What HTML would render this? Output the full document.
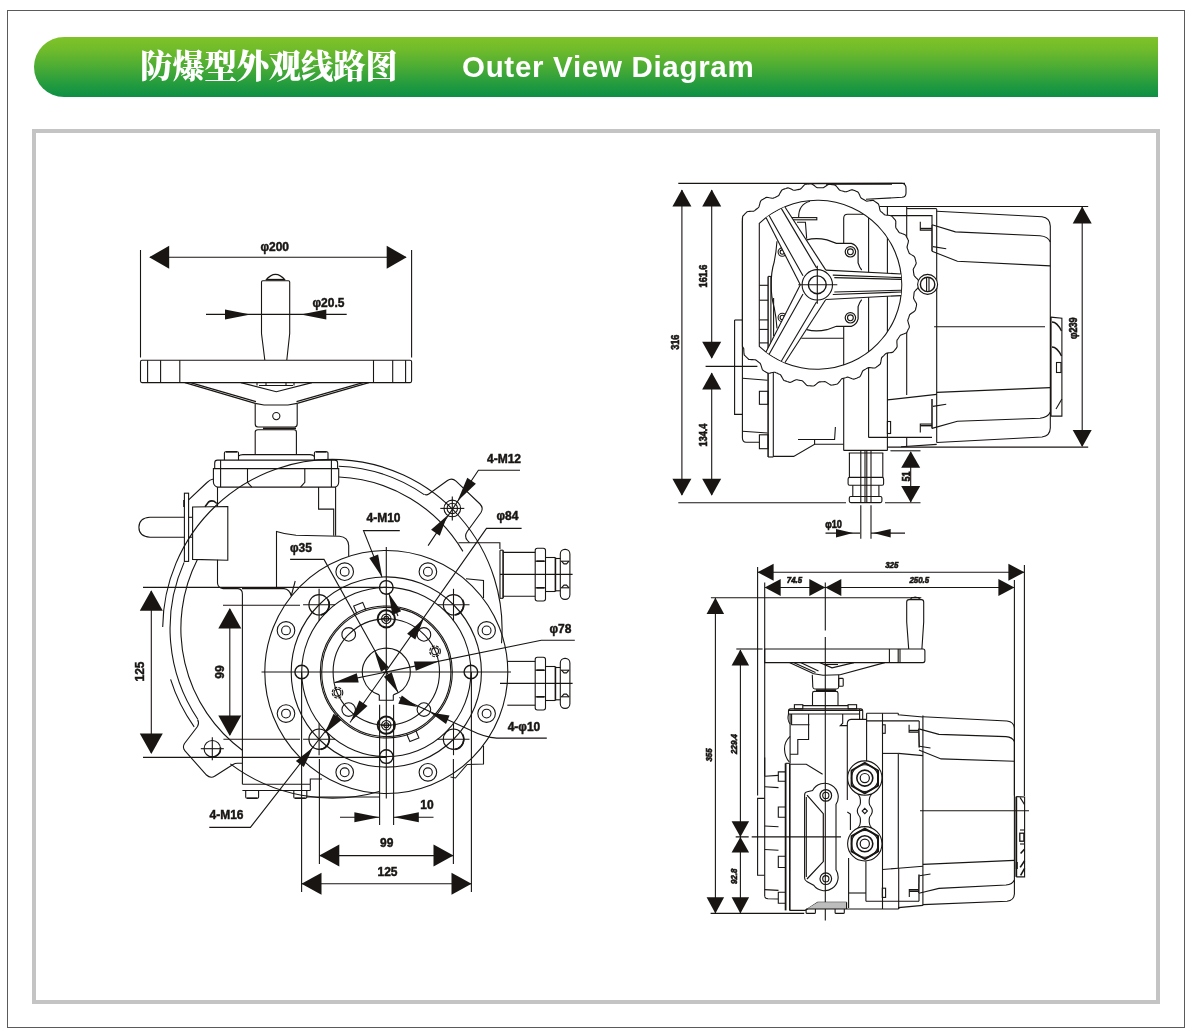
<!DOCTYPE html>
<html lang="zh">
<head>
<meta charset="utf-8">
<title>防爆型外观线路图 Outer View Diagram</title>
<style>
html,body{margin:0;padding:0;background:#fff;}
body{width:1192px;height:1035px;position:relative;overflow:hidden;font-family:"Liberation Sans","Noto Sans CJK SC",sans-serif;}
.page{position:absolute;left:7px;top:10px;width:1176px;height:1016px;border:1px solid #5a5a5a;box-sizing:content-box;}
.banner{position:absolute;left:34px;top:37px;width:1124px;height:60px;border-radius:30px 0 0 30px;background:linear-gradient(to bottom,#80c328 0%,#6fbb2b 22%,#4bac34 50%,#249c3e 78%,#0c8f45 100%);}
.banner h1{position:absolute;margin:0;left:106px;top:1px;height:60px;line-height:58px;font-family:"Liberation Serif","Noto Serif CJK SC",serif;font-weight:900;font-size:32.4px;color:#fff;white-space:nowrap;letter-spacing:-0.2px;}
.banner h2{position:absolute;margin:0;left:428px;top:1px;height:60px;line-height:58px;font-family:"Liberation Sans",sans-serif;font-weight:bold;font-size:29.5px;letter-spacing:0.7px;color:#fff;white-space:nowrap;}
.box{position:absolute;left:32px;top:129px;width:1120px;height:867px;border:4px solid #c4c4c4;box-sizing:content-box;background:#fff;}
svg{position:absolute;left:0;top:0;}
svg .a{fill:#181513;stroke:none;}
svg text{fill:#181513;stroke:#181513;stroke-width:0.45px;}
svg text.s{stroke-width:0.6px;}
svg{will-change:transform;}
.banner h1,.banner h2{will-change:transform;}
</style>
</head>
<body>
<div class="page"></div>
<div class="banner"><h1>防爆型外观线路图</h1><h2>Outer View Diagram</h2></div>
<div class="box"></div>
<svg width="1192" height="1035" viewBox="0 0 1192 1035" fill="none" stroke="#181513" stroke-width="1.1" font-family="Liberation Sans, sans-serif" font-weight="bold" font-size="12" text-anchor="middle">
<g id="p10_left_wheel">
<path d="M140.5 250.0L140.5 357.5"/>
<path d="M411.6 250.0L411.6 357.5"/>
<path d="M150.0 257.3L406.0 257.3"/>
<path class="a" d="M149.2 257.3L169.2 245.8L169.2 268.8Z"/>
<path class="a" d="M406.7 257.3L386.7 268.8L386.7 245.8Z"/>
<text x="274.7" y="250.5">φ200</text>
<path d="M264.8 360L261.5 333.5L261.5 282Q261.5 280.8 262.8 280.8L288.4 280.8Q289.7 280.8 289.7 282L289.7 333.5L286.8 360"/>
<path d="M265.8 280.2Q275.5 268.6 285.2 280.2"/>
<path d="M266.5 279.6L284.5 279.6" stroke-width="1.5"/>
<path d="M206.0 314.4L346.7 314.4"/>
<path class="a" d="M250.5 314.4L225.0 319.4L225.0 309.4Z"/>
<path class="a" d="M300.8 314.4L326.3 309.4L326.3 319.4Z"/>
<text x="328.5" y="307.0">φ20.5</text>
<rect x="140.5" y="360.2" width="271.1" height="22.4" rx="1.5"/>
<path d="M147.6 360.2L147.6 382.6"/>
<path d="M160.6 360.2L160.6 382.6"/>
<path d="M179.8 360.2L179.8 382.6"/>
<path d="M373.5 360.2L373.5 382.6"/>
<path d="M392.7 360.2L392.7 382.6"/>
<path d="M405.6 360.2L405.6 382.6"/>
<path d="M184.9 382.6L255.2 403.4"/>
<path d="M190.5 382.6L256.0 401.6"/>
<path d="M368.9 382.6L297.2 403.4"/>
<path d="M363.0 382.6L296.5 401.6"/>
<path d="M240.9 382.6L276.3 391.8L312.0 382.6"/>
<path d="M255.2 403.4L264.0 405.0L288.0 405.0L297.2 403.4"/>
<path d="M257.0 382.6L257.0 385.5"/>
<path d="M259.0 385.5L293.0 385.5"/>
<path d="M266.0 382.6L266.0 385.5"/>
<path d="M286.0 382.6L286.0 385.5"/>
<path d="M294.0 382.6L294.0 385.5"/>
<path d="M255.2 403.4L255.2 424Q255.2 427 258 427L294.5 427Q297.2 427 297.2 424L297.2 403.4"/>
<circle cx="276.3" cy="416.1" r="3.6"/>
<path d="M263.0 428.4L296.0 428.4" stroke-width="1.8"/>
<path d="M255.2 454L255.2 432Q255.2 429.8 258 429.8L294 429.8Q296.4 429.8 296.4 432L296.4 454"/>
</g>
<g id="p15_left_body">
<path d="M224.4 460.1L224.4 453Q224.4 451.8 225.6 451.8L237.3 451.8Q238.5 451.8 238.5 453L238.5 460.1"/>
<path d="M225.9 451.8L237.0 451.8" stroke-width="1.6"/>
<path d="M314.4 460.1L314.4 453Q314.4 451.8 315.6 451.8L326.8 451.8Q328.0 451.8 328.0 453L328.0 460.1"/>
<path d="M315.9 451.8L326.5 451.8" stroke-width="1.6"/>
<path d="M238.5 456Q240 454.6 243 454.6L310 454.6Q313 454.6 314.4 456.5"/>
<path d="M214.7 468.6L214.7 463Q214.7 460.1 217.5 460.1L334.8 460.1Q337.6 460.1 337.6 463L337.6 468.6"/>
<path d="M213.4 468.6L213.4 482Q213.6 486 217.5 487.1L335.3 487.1Q338.6 486 338.7 482L338.7 468.6Z"/>
<path d="M220.6 460.1L220.6 487.1"/>
<path d="M331.4 460.1L331.4 487.1"/>
<path d="M247.5 468.6L247.5 482.3L251.8 487.1"/>
<path d="M304.8 468.6L304.8 482.3L300.5 487.1"/>
<path d="M217.5 487.1L217.5 506.5"/>
<path d="M217.5 559.8L217.5 583Q217.8 588 223.2 588.6L238 588.6Q242.4 589 242.4 594L242.4 784.2"/>
<path d="M242 588.6L284 588.6Q289.5 589 291.4 596"/>
<path d="M318.6 487.1L318.6 509.1L333.7 509.1L333.7 535.8"/>
<path d="M335.6 487.1L335.6 535.8"/>
<path d="M276.5 588.6L276.5 531.5Q286 534.6 296 535.2L339.5 536.2Q348 537 348.7 545.5L348.7 556"/>
<path d="M192.6 507.0L227.8 506.5L227.8 560.3L192.6 559.4Z"/>
<rect x="184.4" y="493.2" width="4.2" height="68.2"/>
<path d="M188.6 517.3L192.6 517.3"/>
<path d="M188.6 537.2L192.6 537.2"/>
<path d="M184.4 517.3L150 517.3Q138.9 518 138.9 527.3Q138.9 536.5 150 537.2L184.4 537.2"/>
<path d="M184.0 500.0L184.0 507.0" stroke-width="1.6"/>
<path d="M205 506.7L208.5 502Q211 500.3 214 501.2L216.8 503.5" stroke-width="1.6"/>
<path d="M188.6 499.9L207 482.5Q210 479.5 213.4 479"/>
<path d="M242.4 784.2L310.3 784.2"/>
<path d="M242.4 790.5L310.3 790.5"/>
<path d="M310.3 784.2L310.3 790.5"/>
<path d="M245.7 790.5L245.7 797Q245.7 798.2 247 798.2L257.4 798.2Q258.6 798.2 258.6 797L258.6 790.5"/>
<path d="M293.8 790.5L293.8 797Q293.8 798.2 295 798.2L305.6 798.2Q306.8 798.2 306.8 797L306.8 790.5"/>
<path d="M247.0 798.2L257.4 798.2" stroke-width="1.5"/>
<path d="M295.0 798.2L305.6 798.2" stroke-width="1.5"/>
<path d="M306.8 797.0L380.0 797.0"/>
<path d="M295.2 581.0L291.2 596.0"/>
<path d="M310.3 784.2L310.3 779.0L322.0 779.0"/>
</g>
<g id="p16_left_arcs">
<path d="M162.7 626.9A169.7 169.7 0 1 1 501.5 643.2"/>
<path d="M194.2 726.9A169.7 169.7 0 0 1 170.6 679.4"/>
<path d="M379.2 791.5A169.7 169.7 0 0 1 230.3 763.9"/>
<path d="M197.8 719.2A162.3 162.3 0 0 1 184.1 562.4"/>
<path d="M338.7 466.2A162.3 162.3 0 0 1 424.2 494.6"/>
<path d="M242.3 750.2A151.5 151.5 0 0 1 197.4 559.6"/>
<path d="M339.0 477.0A151.5 151.5 0 0 1 462.9 551.4"/>
<path d="M424.5 494.2Q426.5 495.6 428.8 494L447.5 480.5Q452 477.3 456 481.2L480 504Q483.8 508 481 512.5L467.2 531.5Q463.8 536.5 467.5 540.5L469.5 542.7"/>
<circle cx="452.3" cy="508.4" r="8.3"/>
<circle cx="452.3" cy="508.4" r="5.2"/>
<path d="M440.3 508.4L464.3 508.4"/>
<path d="M452.3 496.4L452.3 520.4"/>
<path d="M197.6 719.6Q199.5 723 197.5 726.5L184.5 743.5Q182 747.5 185 750.8L206.5 775Q210.5 779 215 776L233 764.5Q235 763.3 237.5 763.3L242.4 763.3"/>
<circle cx="212.3" cy="748.7" r="8.2"/>
<path d="M200.8 748.7L223.8 748.7"/>
<path d="M212.3 737.2L212.3 760.2"/>
<path d="M220.4 747.3A8.2 8.2 0 0 1 210.9 756.8" stroke-width="1.6"/>
<path d="M458.4 542.7L499.9 542.7L499.9 549.0"/>
</g>
<g id="p17_left_glands">
<path d="M500.0 550.2L503.1 550.2"/>
<path d="M500.0 598.3L503.1 598.3"/>
<path d="M500.0 550.2L500.0 598.3"/>
<path d="M503.1 550.2L503.1 598.3" stroke-width="1.6"/>
<path d="M503.1 552.4L535.2 552.4"/>
<path d="M503.1 596.2L535.2 596.2"/>
<rect x="535.2" y="548.2" width="10.3" height="52.8" rx="2.2"/>
<path d="M535.2 561.2L545.5 561.2"/>
<path d="M535.2 587.8L545.5 587.8"/>
<path d="M536.5 561.2L544.2 561.2" stroke-width="1.6"/>
<path d="M536.5 587.8L544.2 587.8" stroke-width="1.6"/>
<path d="M545.5 557.5L555.4 557.5"/>
<path d="M545.5 591.5L555.4 591.5"/>
<path d="M555.4 557.5L555.4 591.5" stroke-width="1.6"/>
<path d="M555.4 558.5L560.4 558.5"/>
<path d="M555.4 590.8L560.4 590.8"/>
<rect x="560.3" y="549.4" width="9.6" height="50.0" rx="4.6"/>
<path d="M561.0 561.2L569.2 561.2"/>
<path d="M561.0 587.8L569.2 587.8"/>
<path d="M561.5 561.2L564 563.9L566.5 563.9L569 561.2"/>
<path d="M561.5 587.8L564 585.1L566.5 585.1L569 587.8"/>
<path d="M500.0 574.4L572.6 574.4"/>
<path d="M507.3 661.4L535.2 661.4"/>
<path d="M507.3 705.2L535.2 705.2"/>
<rect x="535.2" y="657.2" width="10.3" height="52.8" rx="2.2"/>
<path d="M535.2 670.2L545.5 670.2"/>
<path d="M535.2 696.8L545.5 696.8"/>
<path d="M536.5 670.2L544.2 670.2" stroke-width="1.6"/>
<path d="M536.5 696.8L544.2 696.8" stroke-width="1.6"/>
<path d="M545.5 666.5L555.4 666.5"/>
<path d="M545.5 700.5L555.4 700.5"/>
<path d="M555.4 666.5L555.4 700.5" stroke-width="1.6"/>
<path d="M555.4 667.5L560.4 667.5"/>
<path d="M555.4 699.8L560.4 699.8"/>
<rect x="560.3" y="658.4" width="9.6" height="50.0" rx="4.6"/>
<path d="M561.0 670.2L569.2 670.2"/>
<path d="M561.0 696.8L569.2 696.8"/>
<path d="M561.5 670.2L564 672.9L566.5 672.9L569 670.2"/>
<path d="M561.5 696.8L564 694.1L566.5 694.1L569 696.8"/>
<path d="M500.0 683.4L572.6 683.4"/>
<path d="M466.0 578.7L483.5 580.5L483.5 598.0"/>
<path d="M483.5 745.8L483.5 764.0L467.2 764.5L455.5 778.0L450.5 777.0"/>
</g>
<g id="p20_left_flange">
<circle cx="386.3" cy="672.0" r="121.5"/>
<circle cx="386.3" cy="672.0" r="95.1"/>
<circle cx="386.3" cy="672.0" r="84.6"/>
<circle cx="386.3" cy="672.0" r="66.0"/>
<circle cx="386.3" cy="672.0" r="64.6"/>
<circle cx="386.3" cy="672.0" r="53.2"/>
<path d="M379.3 694.9A23.9 23.9 0 1 1 393.3 694.9"/>
<path d="M379.3 694.9L379.3 700.2L393.3 700.2L393.3 694.9"/>
<circle cx="486.6" cy="713.6" r="8.8"/>
<circle cx="486.6" cy="713.6" r="4.4"/>
<circle cx="427.9" cy="772.3" r="8.8"/>
<circle cx="427.9" cy="772.3" r="4.4"/>
<circle cx="344.7" cy="772.3" r="8.8"/>
<circle cx="344.7" cy="772.3" r="4.4"/>
<circle cx="286.0" cy="713.6" r="8.8"/>
<circle cx="286.0" cy="713.6" r="4.4"/>
<circle cx="286.0" cy="630.4" r="8.8"/>
<circle cx="286.0" cy="630.4" r="4.4"/>
<circle cx="344.7" cy="571.7" r="8.8"/>
<circle cx="344.7" cy="571.7" r="4.4"/>
<circle cx="427.9" cy="571.7" r="8.8"/>
<circle cx="427.9" cy="571.7" r="4.4"/>
<circle cx="486.6" cy="630.4" r="8.8"/>
<circle cx="486.6" cy="630.4" r="4.4"/>
<circle cx="453.5" cy="739.2" r="10.2"/>
<path d="M462.4 734.1A10.2 10.2 0 0 1 455.3 749.3" stroke-width="1.7"/>
<path d="M437.5 739.2L469.5 739.2"/>
<path d="M453.5 723.2L453.5 755.2"/>
<circle cx="319.1" cy="739.2" r="10.2"/>
<path d="M327.9 734.1A10.2 10.2 0 0 1 320.8 749.3" stroke-width="1.7"/>
<path d="M303.1 739.2L335.1 739.2"/>
<path d="M319.1 723.2L319.1 755.2"/>
<circle cx="319.1" cy="604.8" r="10.2"/>
<path d="M327.9 599.7A10.2 10.2 0 0 1 320.8 614.8" stroke-width="1.7"/>
<path d="M303.1 604.8L335.1 604.8"/>
<path d="M319.1 588.8L319.1 620.8"/>
<circle cx="453.5" cy="604.8" r="10.2"/>
<path d="M462.4 599.7A10.2 10.2 0 0 1 455.3 614.8" stroke-width="1.7"/>
<path d="M437.5 604.8L469.5 604.8"/>
<path d="M453.5 588.8L453.5 620.8"/>
<circle cx="470.9" cy="672.0" r="6.8" stroke-width="1.4"/>
<circle cx="386.3" cy="756.6" r="6.8" stroke-width="1.4"/>
<circle cx="301.7" cy="672.0" r="6.8" stroke-width="1.4"/>
<circle cx="386.3" cy="587.4" r="6.8" stroke-width="1.4"/>
<circle cx="386.3" cy="725.2" r="8.6" stroke-width="2"/>
<circle cx="386.3" cy="725.2" r="4.7"/>
<circle cx="386.3" cy="725.2" r="2.4"/>
<path d="M381.6 725.2L391.0 725.2"/>
<circle cx="386.3" cy="618.8" r="8.6" stroke-width="2"/>
<circle cx="386.3" cy="618.8" r="4.7"/>
<circle cx="386.3" cy="618.8" r="2.4"/>
<path d="M381.6 618.8L391.0 618.8"/>
<circle cx="423.9" cy="709.6" r="6.8"/>
<circle cx="348.7" cy="709.6" r="6.8"/>
<circle cx="348.7" cy="634.4" r="6.8"/>
<circle cx="423.9" cy="634.4" r="6.8"/>
<circle cx="435.1" cy="651.3" r="5.3" stroke-dasharray="3 1.2"/>
<circle cx="435.1" cy="651.3" r="3.4"/>
<circle cx="337.5" cy="692.7" r="5.3" stroke-dasharray="3 1.2"/>
<circle cx="337.5" cy="692.7" r="3.4"/>
<path d="M356.8 613.5L353.7 606.1L362.7 602.4L365.8 609.8"/>
<path d="M415.8 730.5L418.9 737.9L409.9 741.6L406.8 734.2"/>
<path d="M261.5 672.0L511.0 672.0"/>
<path d="M386.3 547.0L386.3 798.5"/>
</g>
<g id="p30_left_dims">
<path d="M143.0 587.4L386.3 587.4"/>
<path d="M143.0 757.4L386.3 757.4"/>
<path d="M151.3 591.0L151.3 753.0"/>
<path class="a" d="M151.3 590.2L162.8 610.7L139.8 610.7Z"/>
<path class="a" d="M151.3 754.0L139.8 733.5L162.8 733.5Z"/>
<text transform="translate(143.5 671.5) rotate(-90)">125</text>
<path d="M223.0 605.2L300.0 605.2"/>
<path d="M223.4 739.2L300.0 739.2"/>
<path d="M229.8 609.0L229.8 735.0"/>
<path class="a" d="M229.8 608.0L241.3 628.5L218.3 628.5Z"/>
<path class="a" d="M229.8 736.0L218.3 715.5L241.3 715.5Z"/>
<text transform="translate(223.5 672.0) rotate(-90)">99</text>
<path d="M301.6 672.0L301.6 892.0"/>
<path d="M471.4 672.0L471.4 892.0"/>
<path d="M319.4 759.0L319.4 864.0"/>
<path d="M453.4 759.0L453.4 864.0"/>
<path d="M320.0 855.6L453.0 855.6"/>
<path class="a" d="M319.3 855.6L339.3 844.6L339.3 866.6Z"/>
<path class="a" d="M453.5 855.6L433.5 866.6L433.5 844.6Z"/>
<text x="386.8" y="847.0">99</text>
<path d="M302.0 883.8L471.0 883.8"/>
<path class="a" d="M301.5 883.8L321.5 872.8L321.5 894.8Z"/>
<path class="a" d="M471.5 883.8L451.5 894.8L451.5 872.8Z"/>
<text x="387.5" y="875.6">125</text>
<path d="M379.6 704.7L379.6 825.0"/>
<path d="M393.6 704.7L393.6 825.0"/>
<path d="M340.0 817.3L379.0 817.3"/>
<path d="M393.4 817.3L433.5 817.3"/>
<path class="a" d="M379.4 817.3L354.4 822.3L354.4 812.3Z"/>
<path class="a" d="M393.8 817.3L418.8 812.3L418.8 822.3Z"/>
<text x="427.0" y="808.8">10</text>
<text x="504.0" y="462.5">4-M12</text>
<path d="M520.0 470.2L478.4 470.2L428.1 545.6"/>
<path class="a" d="M457.4 501.3L467.3 477.8L475.9 483.7Z"/>
<path class="a" d="M447.4 515.4L439.8 535.7L431.1 529.7Z"/>
<text x="507.5" y="520.3">φ84</text>
<path d="M521.6 528.4L486.5 528.4L350.0 722.5"/>
<path class="a" d="M423.8 618.6L415.3 639.5L407.1 633.8Z"/>
<path class="a" d="M350.8 721.3L359.3 700.4L367.5 706.1Z"/>
<text x="560.5" y="632.8">φ78</text>
<path d="M574.8 640.3L541.3 640.3L334.4 682.6"/>
<path class="a" d="M438.4 661.4L415.8 670.8L413.9 661.5Z"/>
<path class="a" d="M334.2 682.6L356.8 673.2L358.7 682.5Z"/>
<text x="524.0" y="730.6">4-φ10</text>
<path d="M546.8 738.1L496.7 738.1Q485 737.5 470 730L399.3 697.6"/>
<path class="a" d="M417.6 707.0L398.3 703.8L401.8 695.5Z"/>
<path class="a" d="M430.2 712.4L449.5 715.6L446.0 723.9Z"/>
<text x="226.5" y="818.8">4-M16</text>
<path d="M209.3 827.4L250.4 827.4L338.0 715.0"/>
<path class="a" d="M312.8 747.4L303.8 767.0L295.9 760.9Z"/>
<path class="a" d="M324.6 733.4L333.6 713.8L341.5 719.9Z"/>
<text x="383.5" y="522.4">4-M10</text>
<path d="M399.8 530.6L363.5 530.6L382.0 577.0"/>
<path class="a" d="M382.3 577.5L369.3 558.0L378.1 554.4Z"/>
<path class="a" d="M388.8 593.6L401.1 611.3L392.3 614.9Z"/>
<path d="M388.8 593.6L398.0 616.0"/>
<text x="301.0" y="551.6">φ35</text>
<path d="M290.1 559.4L324.0 559.4L398.3 692.7"/>
<path class="a" d="M374.4 651.3L388.8 667.2L381.0 671.7Z"/>
<path class="a" d="M398.3 692.7L383.9 676.8L391.7 672.3Z"/>
</g>
<g id="p40_rt_dims">
<path d="M678.3 183.4L905.0 183.4"/>
<path d="M678.3 502.7L846.0 502.7"/>
<path d="M885.0 502.7L920.5 502.7"/>
<path d="M681.9 190.0L681.9 495.0"/>
<path class="a" d="M681.9 189.6L691.4 206.6L672.4 206.6Z"/>
<path class="a" d="M681.9 495.8L672.4 478.8L691.4 478.8Z"/>
<text font-size="10.5" transform="translate(679.3 342.2) rotate(-90) scale(0.87 1)" class="s">316</text>
<path d="M711.7 190.0L711.7 358.0"/>
<path class="a" d="M711.7 189.6L721.2 206.6L702.2 206.6Z"/>
<path class="a" d="M711.7 358.8L702.2 341.8L721.2 341.8Z"/>
<text font-size="10.5" transform="translate(706.9 276.0) rotate(-90) scale(0.87 1)" class="s">161.6</text>
<path d="M705.6 366.4L757.4 366.4"/>
<path d="M711.7 373.0L711.7 495.0"/>
<path class="a" d="M711.7 372.4L721.2 389.4L702.2 389.4Z"/>
<path class="a" d="M711.7 495.8L702.2 478.8L721.2 478.8Z"/>
<text font-size="10.5" transform="translate(706.9 435.0) rotate(-90) scale(0.87 1)" class="s">134.4</text>
<path d="M879.3 206.5L1088.2 206.5"/>
<path d="M887.4 447.1L1088.2 447.1"/>
<path d="M1082.2 207.0L1082.2 446.0"/>
<path class="a" d="M1082.2 206.6L1091.7 223.6L1072.7 223.6Z"/>
<path class="a" d="M1082.2 447.0L1072.7 430.0L1091.7 430.0Z"/>
<text font-size="10.5" transform="translate(1076.6 328.2) rotate(-90) scale(0.87 1)" class="s">φ239</text>
<path d="M890.4 450.8L920.5 450.8"/>
<path d="M910.7 452.0L910.7 502.0"/>
<path class="a" d="M910.7 451.2L920.2 467.7L901.2 467.7Z"/>
<path class="a" d="M910.7 502.4L901.2 485.9L920.2 485.9Z"/>
<text font-size="10.5" transform="translate(909.6 476.5) rotate(-90) scale(0.87 1)" class="s">51</text>
<path d="M860.8 505.3L860.8 538.8"/>
<path d="M871.0 505.3L871.0 538.8"/>
<path d="M825.5 533.1L860.0 533.1"/>
<path d="M871.0 533.1L905.0 533.1"/>
<path class="a" d="M853.0 533.1L836.0 537.4L836.0 528.9Z"/>
<path class="a" d="M873.2 533.1L890.7 528.9L890.7 537.4Z"/>
<text font-size="10.5" transform="translate(833.6 528.3) scale(0.87 1)" class="s">φ10</text>
</g>
<g id="p41_rt_body">
<path d="M734.6 320.0L734.6 414.4L742.4 414.4"/>
<path d="M734.6 320.0L742.4 320.0"/>
<path d="M742.4 217.8L742.4 438Q742.6 442 746 442.3L759.4 442.3"/>
<path d="M768.1 371.0L768.1 457.0" stroke-width="1.5"/>
<path d="M773.3 371.0L773.3 457.0"/>
<path d="M768.1 457.0L773.3 457.0"/>
<rect x="759.4" y="391.3" width="8.7" height="13.0"/>
<rect x="759.4" y="434.8" width="8.7" height="13.9"/>
<path d="M742.4 378.3L767.6 380.3"/>
<path d="M742.4 431.3L767.6 433.0"/>
<path d="M773.3 456.4L793.7 456.4L814.6 444.3L843.6 444.3"/>
<path d="M798.0 439.5L834.6 439.5L835.4 427.0"/>
<path d="M814.6 439.5L814.6 444.3"/>
<path d="M843.7 243.3L843.7 218Q843.9 214.4 847.5 214.3L868 214.3"/>
<path d="M843.7 326.3L843.7 450.4"/>
<path d="M868.6 214.3L868.6 437.4"/>
<path d="M887.4 206.5L887.4 450.4"/>
<path d="M906.7 206.5L906.7 395.0"/>
<path d="M843.7 450.4L887.4 450.4"/>
<path d="M868.6 437.4L932.0 437.4"/>
<path d="M848.8 453.0L883.3 453.0"/>
<path d="M849.4 453.0L849.4 477.4"/>
<path d="M882.8 453.0L882.8 477.4"/>
<rect x="848.1" y="477.4" width="35.5" height="7.8" rx="1.5"/>
<path d="M852.8 485.2L852.8 496.5"/>
<path d="M878.9 485.2L878.9 496.5"/>
<rect x="849.3" y="496.5" width="32.6" height="6.1" rx="1.5"/>
<path d="M860.8 451.0L860.8 502.6"/>
<path d="M865.0 451.0L865.0 502.6"/>
<path d="M866.8 451.0L866.8 502.6"/>
<path d="M871.0 451.0L871.0 502.6"/>
<path d="M936.7 209.0L936.7 442.5"/>
<path d="M936.7 211.2L1042 216.8Q1050 217.8 1050.3 226L1050.3 428Q1050 436 1042 437L936.7 442.5"/>
<path d="M932 224.8L955.4 231.9L1040 235.8Q1048 236.5 1050.3 242"/>
<path d="M932 251.2L957.4 261.3L1050.3 265.9"/>
<path d="M932 428.4L957.4 421.2L1040 418.2Q1048 417.5 1050.3 412"/>
<path d="M936.7 392.4L1050.3 387.6"/>
<path d="M934.1 326.8L1045.0 326.8"/>
<path d="M887.4 215.6L932.0 215.6L932.0 224.8"/>
<path d="M906.7 208.6L936.7 208.6"/>
<path d="M920.3 221.7L920.3 230.2L932.0 230.2"/>
<path d="M920.3 228.6L932.0 228.6" stroke-width="1.6"/>
<path d="M932.0 224.8L932.0 251.2" stroke-width="1.5"/>
<path d="M933.0 246.6L946.2 248.7"/>
<path d="M887.4 399.9L936.7 394.4"/>
<path d="M920.3 432.6L920.3 424.0L932.0 424.0"/>
<path d="M920.3 425.6L932.0 425.6" stroke-width="1.6"/>
<path d="M932.0 399.0L932.0 428.4" stroke-width="1.5"/>
<path d="M933.0 406.4L946.2 404.3"/>
<rect x="887.4" y="421.5" width="3.2" height="12.0"/>
<path d="M906.7 437.4L906.7 447.0"/>
<path d="M901.0 446.7L936.7 444.4"/>
<path d="M1050.8 317.1L1050.8 416.1" stroke-width="1.6"/>
<path d="M1050.8 317.1L1061.9 318.3L1061.9 416.1L1050.8 416.1"/>
<path d="M1052 322Q1057 322 1061.5 331" stroke-width="1.5"/>
<path d="M1052 347Q1057 347 1061.5 356" stroke-width="1.5"/>
<rect x="1056.5" y="362.5" width="4.5" height="10.0"/>
<path d="M1056.0 409.0L1061.9 399.0"/>
</g>
<g id="p42_rt_inner">
<path d="M806.7 239.9Q816 237.4 827 239.9L836.4 243.3L851.3 243.3Q856.6 244.6 858.1 250.7L858.1 262.9Q859.5 267.5 861.7 270" stroke-width="1.2"/>
<path d="M806.7 329.7Q816 332.2 827 329.7L836.4 326.3L851.3 326.3Q856.6 325 858.1 318.9L858.1 306.7Q859.5 302.1 861.7 299.6" stroke-width="1.2"/>
<path d="M777 241.2Q776.2 252 774.2 262Q771 272 771.3 284.8Q771 297 774.2 307.6Q776.2 317 777 328.4"/>
<circle cx="850.4" cy="251.8" r="5.2" stroke-width="1.2"/>
<circle cx="850.4" cy="251.8" r="2.9"/>
<circle cx="850.4" cy="317.8" r="5.2" stroke-width="1.2"/>
<circle cx="850.4" cy="317.8" r="2.9"/>
<circle cx="782.3" cy="252.1" r="4.2"/>
<circle cx="782.3" cy="252.1" r="2.2"/>
<circle cx="782.3" cy="317.5" r="4.2"/>
<circle cx="782.3" cy="317.5" r="2.2"/>
<path d="M798.6 217.5Q798.6 204 810 201.2"/>
<rect x="791.8" y="217.6" width="25.0" height="2.2"/>
<path d="M797.0 222.3L805.4 222.3L806.7 238.8"/>
<path d="M768.1 276.4L768.1 350.0" stroke-width="1.4"/>
<path d="M770.9 277.0L770.9 345.0"/>
<path d="M768.1 276.4L771.5 276.4"/>
<path d="M759.3 285.3L768.1 285.3"/>
<path d="M759.3 300.2L768.1 300.2"/>
<path d="M759.3 319.9L768.1 319.9"/>
<path d="M759.3 329.4L768.1 329.4"/>
<path d="M759.3 342.9L768.1 342.9"/>
<path d="M773.6 298.0L773.6 336.0"/>
<path d="M801.3 338.2L843.7 338.2"/>
</g>
<g id="p45_rt_wheel">
<path d="M742.4 284.8L742.4 283.8L742.4 282.7L742.4 281.6L742.4 280.6L742.4 279.5L742.4 278.4L742.4 277.4L742.4 276.3L742.4 275.3L742.4 274.2L742.4 273.3L742.4 272.4L742.4 271.4L742.4 270.5L742.4 269.6L742.4 268.6L742.4 267.6L742.4 266.6L742.4 265.6L742.4 264.6L742.4 263.6L742.4 262.4L742.4 261.2L742.4 260.0L742.4 258.8L742.4 257.6L742.4 256.5L742.4 255.5L742.4 254.5L742.4 253.5L742.4 252.5L742.4 251.5L742.4 250.7L742.4 250.0L742.4 249.4L742.4 248.7L742.4 248.1L742.4 247.2L742.4 246.2L742.4 245.3L742.4 244.4L742.4 243.5L742.4 242.5L742.4 241.4L742.4 240.1L742.4 238.8L742.4 237.5L742.4 236.2L742.4 235.1L742.4 234.2L742.4 233.2L742.4 232.3L742.4 231.4L742.4 230.5L742.4 229.8L742.4 229.4L742.4 229.0L742.4 228.6L742.4 228.2L742.4 227.7L742.4 226.9L742.4 226.1L742.4 225.3L742.4 224.5L742.4 223.7L742.4 222.8L742.4 221.5L742.5 220.2L742.5 218.8L742.6 217.5L742.7 216.2L743.5 215.5L744.2 214.7L744.9 213.9L745.7 213.2L746.4 212.4L747.2 211.7L748.4 211.5L749.8 211.4L751.1 211.3L752.5 211.3L753.7 211.2L754.6 210.6L755.4 210.0L756.2 209.3L757.0 208.7L757.8 208.1L758.6 207.5L759.1 206.4L759.4 205.2L759.8 203.8L760.1 202.5L760.6 201.3L761.2 200.4L762.1 199.8L763.0 199.3L763.9 198.7L764.8 198.2L765.7 197.6L766.8 197.4L768.1 197.5L769.5 197.8L770.8 198.0L772.1 198.3L773.2 198.3L774.1 197.8L775.0 197.4L776.0 196.9L776.9 196.5L777.8 196.1L778.7 195.5L779.3 194.4L779.9 193.3L780.6 192.1L781.3 190.9L782.0 189.9L783.0 189.5L784.0 189.1L785.0 188.8L786.0 188.5L787.0 188.1L788.0 187.8L789.2 188.2L790.5 188.7L791.7 189.3L792.9 189.9L794.1 190.3L795.1 190.3L796.1 190.0L797.1 189.8L798.1 189.6L799.1 189.4L800.1 189.2L801.0 188.5L801.9 187.6L802.8 186.6L803.7 185.6L804.6 184.6L805.7 184.2L806.7 184.1L807.8 183.9L808.8 183.9L809.9 183.8L810.9 183.7L812.0 184.0L813.1 184.7L814.2 185.5L815.2 186.4L816.3 187.2L817.3 187.7L818.3 187.7L819.3 187.7L820.3 187.7L821.4 187.8L822.4 187.8L823.4 187.7L824.5 187.0L825.6 186.3L826.7 185.5L827.8 184.8L828.9 184.2L830.0 184.3L831.0 184.4L832.1 184.6L833.1 184.7L834.2 184.9L835.2 185.1L836.1 186.0L837.0 187.0L837.9 188.1L838.7 189.1L839.5 190.1L840.5 190.5L841.4 190.8L842.4 191.0L843.4 191.3L844.4 191.6L845.4 191.8L846.5 191.6L847.7 191.2L849.0 190.7L850.2 190.2L851.5 189.8L852.6 189.9L853.6 190.2L854.6 190.6L855.6 191.0L856.6 191.4L857.5 191.8L858.4 192.6L859.0 193.7L859.6 194.9L860.1 196.2L860.7 197.4L861.4 198.3L862.3 198.7L863.2 199.2L864.1 199.7L865.0 200.2L865.8 200.7L866.8 201.1L868.1 201.0L869.4 200.8L870.7 200.6L872.1 200.4L873.4 200.4L874.2 201.0L875.1 201.6L876.0 202.2L876.8 202.8L877.7 203.5L878.5 204.1L878.9 205.3L879.3 206.6L879.5 208.0L879.8 209.3L880.1 210.5L880.7 211.3L881.5 212.0L882.3 212.6L883.0 213.3L883.8 214.0L884.5 214.7L885.6 215.0L886.9 215.2L888.3 215.3L889.6 215.5L890.9 215.7L891.9 216.2L892.6 217.0L893.3 217.8L894.0 218.6L894.7 219.4L895.4 220.2L895.8 221.3L895.8 222.6L895.8 223.9L895.7 225.3L895.7 226.6L895.9 227.7L896.4 228.6L897.0 229.4L897.6 230.2L898.2 231.1L898.7 231.9L899.4 232.7L900.6 233.1L901.9 233.6L903.2 234.0L904.4 234.5L905.6 235.1L906.1 236.0L906.6 236.9L907.1 237.9L907.6 238.8L908.0 239.8L908.5 240.7L908.3 242.0L908.0 243.3L907.6 244.6L907.3 245.9L907.0 247.1L907.2 248.1L907.6 249.1L908.0 250.0L908.3 251.0L908.7 251.9L909.0 252.9L909.8 253.7L910.9 254.4L912.1 255.1L913.2 255.8L914.3 256.6L914.9 257.6L915.1 258.6L915.4 259.6L915.7 260.6L915.9 261.7L916.2 262.7L916.1 263.8L915.5 265.0L914.9 266.2L914.2 267.4L913.6 268.5L913.2 269.6L913.4 270.6L913.5 271.6L913.6 272.6L913.8 273.6L913.9 274.7L914.1 275.6L915.0 276.6L915.9 277.6L916.9 278.5L917.7 279.5L918.5 280.6L918.6 281.6L918.6 282.7L918.6 283.7L918.6 284.8L918.6 285.9L918.6 286.9L917.8 288.0L917.0 289.0L916.0 290.0L915.1 291.0L914.3 291.9L914.1 292.9L914.0 293.9L913.9 294.9L913.8 296.0L913.6 297.0L913.5 298.0L913.9 299.1L914.5 300.2L915.2 301.4L915.9 302.5L916.5 303.7L916.6 304.8L916.4 305.9L916.2 306.9L915.9 307.9L915.7 309.0L915.4 310.0L914.8 310.9L913.8 311.7L912.7 312.5L911.5 313.3L910.5 314.0L909.6 314.8L909.3 315.8L909.0 316.7L908.7 317.7L908.3 318.6L908.0 319.6L907.7 320.6L908.1 321.8L908.4 323.1L908.8 324.4L909.2 325.7L909.4 327.0L909.0 327.9L908.5 328.9L908.0 329.8L907.6 330.8L907.1 331.7L906.6 332.7L905.4 333.3L904.2 333.8L902.9 334.2L901.7 334.7L900.5 335.2L899.8 336.0L899.3 336.8L898.7 337.7L898.2 338.5L897.6 339.4L897.0 340.2L896.9 341.4L896.9 342.7L897.0 344.0L897.1 345.4L897.1 346.7L896.7 347.7L896.0 348.6L895.4 349.4L894.7 350.2L894.0 351.0L893.3 351.8L892.3 352.4L891.0 352.6L889.7 352.8L888.3 352.9L887.1 353.1L886.0 353.5L885.2 354.2L884.5 354.9L883.8 355.6L883.0 356.3L882.3 357.0L881.6 357.8L881.3 359.0L881.1 360.3L880.9 361.7L880.6 363.0L880.2 364.2L879.4 364.8L878.5 365.5L877.7 366.1L876.8 366.8L876.0 367.4L875.1 368.0L873.8 368.0L872.5 367.9L871.1 367.7L869.8 367.6L868.6 367.5L867.6 367.9L866.7 368.4L865.9 368.9L865.0 369.4L864.1 369.9L863.2 370.4L862.5 371.3L862.0 372.5L861.5 373.8L860.9 375.0L860.3 376.2L859.5 376.9L858.5 377.3L857.5 377.8L856.6 378.2L855.6 378.6L854.6 379.0L853.5 379.1L852.2 378.7L850.9 378.2L849.7 377.8L848.4 377.3L847.3 377.1L846.3 377.5L845.4 377.8L844.4 378.0L843.4 378.3L842.4 378.6L841.5 379.0L840.7 380.0L839.9 381.1L839.1 382.1L838.2 383.2L837.3 384.1L836.3 384.3L835.2 384.5L834.2 384.7L833.1 384.9L832.1 385.0L831.0 385.2L829.9 384.6L828.8 383.9L827.6 383.1L826.5 382.4L825.4 381.7L824.4 381.6L823.4 381.7L822.4 381.8L821.4 381.8L820.3 381.9L819.3 381.9L818.3 382.4L817.3 383.2L816.3 384.1L815.2 385.0L814.1 385.7L813.1 386.0L812.0 386.0L810.9 385.9L809.9 385.8L808.8 385.7L807.8 385.7L806.7 385.2L805.8 384.3L804.9 383.3L803.9 382.3L803.0 381.4L802.1 380.7L801.1 380.5L800.1 380.4L799.1 380.2L798.1 380.0L797.1 379.8L796.1 379.7L794.9 380.2L793.7 380.8L792.5 381.4L791.3 382.0L790.1 382.4L789.0 382.1L788.0 381.8L787.0 381.5L786.0 381.1L785.0 380.8L784.0 380.5L783.2 379.4L782.5 378.3L781.9 377.1L781.2 375.9L780.6 374.9L779.7 374.3L778.7 373.9L777.8 373.5L776.9 373.1L776.0 372.7L775.0 372.2L773.9 372.2L772.6 372.5L771.3 372.8L770.0 373.1L768.7 373.3L767.6 373.1L766.7 372.5L765.7 372.0L764.8 371.4L763.9 370.9L763.0 370.3L762.3 369.5L761.9 368.2L761.5 366.9L761.1 365.6L760.7 364.4L760.2 363.4L759.4 362.8L758.6 362.1L757.8 361.5L757.0 360.9L756.2 360.3L755.3 359.7L754.0 359.7L752.7 359.6L751.3 359.6L750.0 359.5L748.7 359.4L748.0 358.6L747.2 357.9L746.4 357.2L745.7 356.4L744.9 355.7L744.2 354.9L744.0 353.7L743.9 352.3L743.8 351.0L743.8 349.6L743.7 348.4L743.1 347.5L742.5 346.7L742.4 345.9L742.4 345.1L742.4 344.3L742.4 343.5L742.4 343.0L742.4 342.7L742.4 342.3L742.4 342.0L742.4 341.5L742.4 340.9L742.4 340.0L742.4 339.1L742.4 338.2L742.4 337.3L742.4 336.4L742.4 335.3L742.4 334.0L742.4 332.6L742.4 331.3L742.4 330.0L742.4 328.9L742.4 328.0L742.4 327.1L742.4 326.1L742.4 325.2L742.4 324.3L742.4 323.4L742.4 322.8L742.4 322.2L742.4 321.5L742.4 320.8L742.4 320.1L742.4 319.1L742.4 318.1L742.4 317.1L742.4 316.1L742.4 315.1L742.4 314.1L742.4 312.9L742.4 311.6L742.4 310.4L742.4 309.2L742.4 308.0L742.4 307.0L742.4 306.0L742.4 305.0L742.4 304.0L742.4 303.0L742.4 302.0L742.4 301.1L742.4 300.2L742.4 299.3L742.4 298.4L742.4 297.5L742.4 296.4L742.4 295.4L742.4 294.3L742.4 293.3L742.4 292.2L742.4 291.2L742.4 290.1L742.4 289.0L742.4 287.9L742.4 286.9L742.4 285.8L742.4 284.8ZM759.3 223.3A84.5 84.5 0 1 1 759.3 346.3Z" fill="#fff" fill-rule="evenodd"/>
<path d="M817.3 284.8L825.8 270.1L901.1 274.0L901.1 295.6L825.8 299.5Z" fill="#fff" stroke="none"/>
<path d="M825.8 270.1L901.1 274.0"/>
<path d="M825.8 299.5L901.1 295.6"/>
<path d="M832.8 294.5L901.5 292.0"/>
<path d="M834.3 292.0L901.6 290.2"/>
<path d="M832.8 275.1L901.5 277.6"/>
<path d="M834.3 277.6L901.6 279.4"/>
<path d="M817.3 284.8L825.8 299.5L784.8 362.8L766.0 352.0L800.3 284.8Z" fill="#fff" stroke="none"/>
<path d="M825.8 299.5L784.8 362.8"/>
<path d="M800.3 284.8L766.0 352.0"/>
<path d="M803.0 293.9L769.1 354.2"/>
<path d="M816.6 301.7L781.3 361.2"/>
<path d="M817.3 284.8L800.3 284.8L766.0 217.6L784.8 206.8L825.8 270.1Z" fill="#fff" stroke="none"/>
<path d="M800.3 284.8L766.0 217.6"/>
<path d="M825.8 270.1L784.8 206.8"/>
<path d="M816.6 267.9L781.3 208.4"/>
<path d="M803.0 275.7L769.1 215.4"/>
<circle cx="817.3" cy="284.8" r="15.2" fill="#fff"/>
<circle cx="817.3" cy="284.8" r="8.9" stroke-width="1.4"/>
<path d="M798.3 284.8L837.3 284.8"/>
<path d="M817.3 265.8L817.3 303.8"/>
<path d="M808 183.6L902 183.3Q906 184.2 906 188L906 193Q906 197 902 197.3L866 199.2"/>
<path d="M826.0 184.0L892.0 184.0" stroke-width="1.7"/>
<circle cx="927.6" cy="284.4" r="10.0" fill="#fff"/>
<circle cx="927.6" cy="284.4" r="7.2" stroke-width="1.4"/>
<path d="M926.6 277.6L926.6 291.2"/>
<path d="M929.0 277.6L929.0 291.2"/>
</g>
<g id="p50_rb_dims">
<path d="M757.6 567.0L757.6 795.4"/>
<path d="M764.7 582.5L764.7 776.0"/>
<path d="M825.3 582.5L825.3 630.5"/>
<path d="M825.3 637.0L825.3 920.6"/>
<path d="M1014.4 580.0L1014.4 795.6"/>
<path d="M1024.4 565.0L1024.4 796.0"/>
<path d="M758.0 572.3L1024.0 572.3"/>
<path class="a" d="M757.6 572.3L773.6 563.8L773.6 580.8Z"/>
<path class="a" d="M1024.4 572.3L1008.4 580.8L1008.4 563.8Z"/>
<text font-size="8.6" font-style="italic" transform="translate(891.8 568.3) scale(0.92 1)" class="s">325</text>
<path d="M765.0 587.5L1014.0 587.5"/>
<path class="a" d="M764.7 587.5L780.7 579.0L780.7 596.0Z"/>
<path class="a" d="M825.3 587.5L809.3 596.0L809.3 579.0Z"/>
<path class="a" d="M825.3 587.5L841.3 579.0L841.3 596.0Z"/>
<path class="a" d="M1014.4 587.5L998.4 596.0L998.4 579.0Z"/>
<text font-size="8.6" font-style="italic" transform="translate(794.5 583.0) scale(0.92 1)" class="s">74.5</text>
<text font-size="8.6" font-style="italic" transform="translate(919.3 583.0) scale(0.92 1)" class="s">250.5</text>
<path d="M710.9 597.7L921.3 597.7"/>
<path d="M710.6 913.4L804.2 913.4"/>
<path d="M715.4 598.0L715.4 913.0"/>
<path class="a" d="M715.4 597.7L724.1 613.9L706.6 613.9Z"/>
<path class="a" d="M715.4 913.4L706.6 897.2L724.1 897.2Z"/>
<text font-size="8.6" font-style="italic" transform="translate(711.6 755.0) rotate(-90) scale(0.92 1)" class="s">355</text>
<path d="M736.3 649.0L762.6 649.0"/>
<path d="M740.4 650.0L740.4 913.0"/>
<path class="a" d="M740.4 649.4L749.1 665.4L731.6 665.4Z"/>
<path class="a" d="M740.4 836.9L731.6 821.3L749.1 821.3Z"/>
<path class="a" d="M740.4 836.9L749.1 852.5L731.6 852.5Z"/>
<path class="a" d="M740.4 913.4L731.6 897.2L749.1 897.2Z"/>
<text font-size="8.6" font-style="italic" transform="translate(736.5 744.0) rotate(-90) scale(0.92 1)" class="s">229.4</text>
<text font-size="8.6" font-style="italic" transform="translate(736.5 876.2) rotate(-90) scale(0.92 1)" class="s">92.8</text>
<path d="M735.7 836.9L841 836.9" stroke-dasharray="13 3 200"/>
</g>
<g id="p51_rb_body">
<path d="M764.7 649L923 649Q924.9 649 924.9 651L924.9 660.6Q924.9 662.6 923 662.6L764.7 662.6Z"/>
<path d="M889.4 649.0L889.4 662.6"/>
<path d="M898.2 649.0L898.2 662.6"/>
<path d="M900.0 649.0L900.0 662.6"/>
<path d="M908.7 649L906.7 622L906.7 602Q906.7 599.6 909 599.6L921.4 599.6Q923.7 599.6 923.7 602L923.7 622L921.9 649"/>
<path d="M909.5 599.6Q915.2 594.5 920.8 599.6"/>
<path d="M911.0 597.6L919.5 597.6"/>
<path d="M789.4 662.6L813.8 673.8"/>
<path d="M793.5 662.6L815.5 672.5"/>
<path d="M800.5 662.6L818.5 671.0"/>
<path d="M884.8 662.6L840.1 674.8"/>
<path d="M819.5 662.6L832.0 667.8L854.0 662.6"/>
<path d="M824.0 664.5L838.0 664.5"/>
<path d="M813.8 673.8L823.0 675.2L840.1 674.8"/>
<path d="M812.3 674.8L812.8 687Q813 689 815 689L836.5 689Q838.5 689 838.7 687L838.7 674.8"/>
<path d="M816.0 690.2L836.0 690.2" stroke-width="1.8"/>
<path d="M812.5 705.5L812.5 693.2Q812.5 691.4 814.5 691.4L836 691.4Q838 691.4 838 693.2L838 705.5"/>
<rect x="838.7" y="678.4" width="4.5" height="7.9" rx="0.8"/>
<rect x="794.4" y="704.7" width="8.4" height="4.2"/>
<rect x="848.1" y="704.7" width="8.5" height="4.2"/>
<path d="M802.8 705.6L848.1 705.6"/>
<path d="M788.5 714L788.5 711Q788.5 708.9 790.5 708.9L860.7 708.9Q862.7 708.9 862.7 711L862.7 719"/>
<path d="M789.0 710.4L862.0 710.4"/>
<path d="M788.5 714.0L860.0 714.0"/>
<path d="M859.6 708.9L859.6 719.4"/>
<path d="M791.6 714.0L791.6 724.8L809.4 724.8"/>
<path d="M808.6 714.0L808.6 739.5L797.8 739.5L797.8 754.2L790.1 754.2"/>
<path d="M790.1 714.0L790.1 763.0"/>
<path d="M790.1 736.4Q784.3 742 784.5 749Q784.8 757 789.3 762"/>
<path d="M788.5 714Q787 720 790.1 724"/>
<path d="M785.6 763.3L785.6 910.4" stroke-width="1.8"/>
<path d="M789.8 763.3L789.8 910.4" stroke-width="1.6"/>
<path d="M785.6 763.3L789.6 763.3"/>
<path d="M790.1 764.2L806.3 764.2L822.6 774.2"/>
<path d="M764.7 798.4L757.6 798.4L757.6 875.2L764.6 875.2"/>
<path d="M764.7 776.2L778.3 775.4"/>
<path d="M764.7 757.5L764.7 896.5"/>
<path d="M764.7 896.5Q765 898.5 768 898.7L778 899"/>
<path d="M785.0 771.9L778.3 771.9L778.3 781.2L785.0 781.2"/>
<path d="M785.0 807.0L778.3 807.0L778.3 817.2L785.0 817.2"/>
<path d="M785.0 856.3L778.3 856.3L778.3 867.5L785.0 867.5"/>
<path d="M785.0 892.2L778.3 892.2L778.3 903.2L785.0 903.2"/>
<path d="M764.7 786.8L778.5 787.6"/>
<path d="M764.7 826.0L778.5 826.8"/>
<path d="M764.7 849.5L778.5 850.3"/>
<path d="M764.7 889.6L778.5 890.4"/>
<circle cx="825.8" cy="795.4" r="5.8" stroke-width="1.2"/>
<circle cx="825.8" cy="795.4" r="3.1"/>
<circle cx="825.8" cy="878.7" r="5.8" stroke-width="1.2"/>
<circle cx="825.8" cy="878.7" r="3.1"/>
<path d="M804.6 870L804.6 795Q804.6 792.3 807.2 791.8L812.6 790.6A13.6 13.6 0 1 1 836 804.4L836 869.8A13.6 13.6 0 0 1 813.6 885.2L807.2 881.8Q804.6 880.5 804.6 878Z"/>
<path d="M807 795.2L823.3 813.7L823.3 861.6L807 879" stroke-width="1.2"/>
<path d="M806.3 797L806.3 877"/>
<path d="M789.6 910.4L805.2 910.4L817.7 902.3L846.6 902.3"/>
<path d="M817.7 902.3L846.6 902.3L846.6 909L806.8 909Z" fill="#bdbdbd" stroke="none"/>
<path d="M806.1 909L806.1 912.4Q806.1 913.4 807.1 913.4L814.4 913.4Q815.4 913.4 815.4 912.4L815.4 909"/>
<path d="M835.1 909L835.1 912.4Q835.1 913.4 836.1 913.4L843.3 913.4Q844.3 913.4 844.3 912.4L844.3 909"/>
<path d="M806.1 909.0L898.7 909.0"/>
<path d="M847.3 800L847.3 723.5Q847.5 719.6 851 719.4L866.6 719.4"/>
<path d="M842.7 714.0L842.7 723.2L840.3 725.6L847.3 725.6"/>
<path d="M847.3 812.0L850.4 814.0L850.4 830.0"/>
<path d="M866.6 713.2L866.6 760.9"/>
<path d="M882.5 713.2L882.5 909.0"/>
<path d="M848.6 858.0L848.6 908.0"/>
<path d="M865.9 861.2L865.9 901.3"/>
<path d="M846.6 902.3L846.6 909.0"/>
<path d="M848.6 893.0L865.9 893.0"/>
<circle cx="864.8" cy="778.1" r="17.2"/>
<path d="M864.8 793.3L851.6 785.7L851.6 770.5L864.8 762.9L878.0 770.5L878.0 785.7Z" stroke-width="2"/>
<circle cx="864.8" cy="778.1" r="13.4"/>
<circle cx="864.8" cy="778.1" r="8.0" stroke-width="1.6"/>
<circle cx="864.8" cy="778.1" r="4.6" stroke-width="1.2"/>
<circle cx="864.8" cy="843.8" r="17.2"/>
<path d="M864.8 859.0L851.6 851.4L851.6 836.2L864.8 828.6L878.0 836.2L878.0 851.4Z" stroke-width="2"/>
<circle cx="864.8" cy="843.8" r="13.4"/>
<circle cx="864.8" cy="843.8" r="8.0" stroke-width="1.6"/>
<circle cx="864.8" cy="843.8" r="4.6" stroke-width="1.2"/>
<path d="M858 794Q860.4 797 860.4 800L860.4 803Q860.4 805 858.6 807Q856 811 858.6 815Q860.4 817 860.4 819L860.4 822Q860.4 825 858 828"/>
<path d="M871.6 794Q869.2 797 869.2 800L869.2 803Q869.2 805 871 807Q873.6 811 871 815Q869.2 817 869.2 819L869.2 822Q869.2 825 871.6 828"/>
<path d="M864.8 808.4L867.4 811.0L864.8 813.6L862.2 811.0Z"/>
<path d="M866.6 713.2L898.3 713.2"/>
<path d="M898.3 713.2L898.3 714.7L922.9 717.0"/>
<path d="M866.6 720.9L919.2 720.9"/>
<path d="M919.2 720.9L919.2 728.6"/>
<rect x="882.5" y="724.8" width="2.7" height="8.5"/>
<path d="M909.1 724.8L909.1 732.2L918.4 732.2"/>
<path d="M909.1 730.6L918.4 730.6" stroke-width="1.6"/>
<path d="M918.8 728.6L919.2 747.4" stroke-width="1.5"/>
<path d="M919.5 746.2L930.5 748.0"/>
<path d="M882.5 753.4L898.3 753.4"/>
<path d="M898.3 753.4L922.9 755.6"/>
<path d="M898.3 753.4L898.3 868.2"/>
<path d="M922.9 715.6L922.9 905.6"/>
<path d="M922.9 716.7L1007 721Q1014 722 1014.4 728L1014.4 894Q1014 900.5 1007 901.2L922.9 904.6"/>
<path d="M918.9 728.9L938.9 734.4L1006 736.6Q1012.5 737.2 1014.4 741.5"/>
<path d="M918.9 750L941.1 758.9L1014.4 761.2"/>
<path d="M918.9 893.3L938.9 888.4L1006 885Q1012.5 884.4 1014.4 880"/>
<path d="M922.9 864.4L1014.4 860.4"/>
<path d="M920.0 810.7L1029.0 810.7"/>
<path d="M882.5 869.5L898.3 868.2"/>
<path d="M898.3 868.2L922.9 866.3"/>
<path d="M865.9 901.3L919.0 901.3"/>
<path d="M919.0 893.3L919.0 901.3"/>
<rect x="882.3" y="888.2" width="3.3" height="9.2"/>
<path d="M909.3 897.0L909.3 889.6L918.6 889.6"/>
<path d="M909.3 891.2L918.6 891.2" stroke-width="1.6"/>
<path d="M919.0 874.5L918.8 893.3" stroke-width="1.5"/>
<path d="M919.5 875.8L930.5 874.0"/>
<path d="M898.7 868.2L898.7 909.0"/>
<path d="M898.7 909.0L898.7 907.6L922.9 905.4"/>
<path d="M1016.3 796.6L1016.3 876.9" stroke-width="1.8"/>
<path d="M1016.3 796.6L1024.6 797.0L1024.6 876.9L1016.3 876.9"/>
<path d="M1020.0 797.4L1024.6 804.6"/>
<rect x="1019.8" y="833.2" width="4.1" height="8.0" stroke-width="1.3"/>
<path d="M1020.0 830.0L1024.0 830.0"/>
<path d="M1020.0 844.0L1024.0 844.0"/>
<path d="M1020.6 853.6L1024.4 849.2" stroke-width="1.6"/>
<path d="M1020.2 867.4L1024.6 860.8" stroke-width="1.6"/>
<path d="M1020.6 875.4L1024.6 868.4" stroke-width="1.6"/>
<path d="M1016.8 862.0L1016.8 869.0" stroke-width="2"/>
</g>
</svg>
</body>
</html>
